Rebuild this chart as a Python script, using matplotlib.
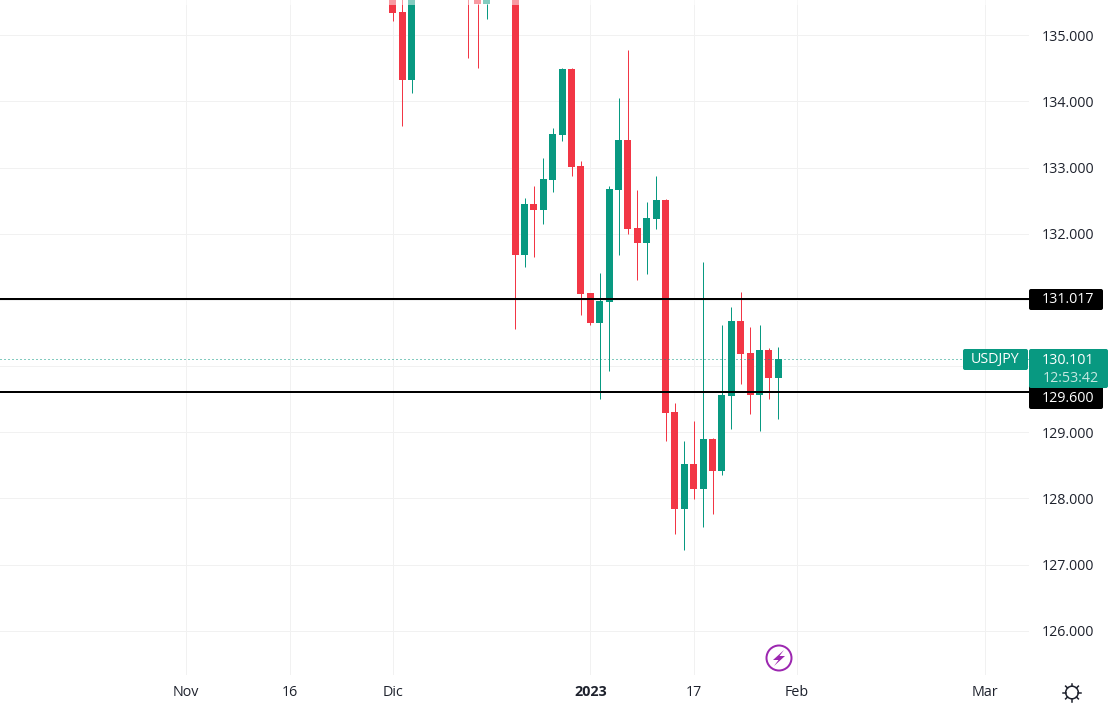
import matplotlib
matplotlib.use("Agg")
import matplotlib.pyplot as plt
from matplotlib.patches import Rectangle, FancyBboxPatch, Circle, Polygon
import numpy as np

plt.rcParams['font.family'] = ['Open Sans', 'Noto Sans', 'DejaVu Sans']

# Session index (weekdays from the first visible December candle)
idx = [0, 1, 2, 8, 9, 10, 13, 14, 15, 16, 17, 18, 19, 20, 21, 22, 23, 24, 25, 26, 27,
       28, 29, 30, 31, 32, 33, 34, 35, 36, 37, 38, 39, 40, 41]
opens = [135.60, 135.35, 134.32, 136.20, 136.00, 135.47, 136.90, 131.68, 132.45, 132.36, 132.81,
         133.49, 134.49, 133.02, 131.10, 130.65, 130.97, 132.66, 133.42, 132.09, 131.86,
         132.22, 132.51, 129.30, 127.84, 128.52, 128.14, 128.90, 128.41, 129.55, 130.68,
         130.20, 129.56, 130.24, 129.82]
closes = [135.34, 134.32, 135.60, 135.70, 135.47, 136.00, 131.68, 132.45, 132.36, 132.83, 133.51,
          134.49, 133.01, 131.09, 130.65, 130.98, 132.68, 133.42, 132.07, 131.86, 132.24,
          132.51, 129.29, 127.84, 128.52, 128.14, 128.90, 128.41, 129.56, 130.68, 130.18,
          129.56, 130.24, 129.82, 130.10]
highs = [135.70, 135.70, 135.70, 136.30, 136.10, 136.10, 137.00, 132.54, 132.72, 133.14, 133.60,
         134.50, 134.50, 133.10, 131.11, 131.41, 132.72, 134.05, 134.78, 132.66, 132.48,
         132.87, 132.52, 129.44, 128.87, 129.17, 131.57, 128.91, 130.62, 130.89, 131.12,
         130.59, 130.62, 130.27, 130.29]
lows = [135.22, 133.63, 134.13, 134.66, 134.51, 135.25, 130.56, 131.50, 131.65, 132.15, 132.63,
        133.40, 132.87, 130.77, 130.62, 129.50, 129.92, 131.68, 131.99, 131.30, 131.39,
        132.07, 128.87, 127.46, 127.22, 127.99, 127.57, 127.76, 128.35, 129.05, 129.73,
        129.27, 129.02, 129.50, 129.20]

price_ticks = [126, 127, 128, 129, 130, 131, 132, 133, 134, 135]
price_labels = ["126.000", "127.000", "128.000", "129.000", "", "", "132.000", "133.000", "134.000", "135.000"]
date_ticks = [-22, -11, 0, 21, 32, 43, 63]
date_labels = ["Nov", "16", "Dic", "2023", "17", "Feb", "Mar"]
levels = [131.017, 129.600]
last_price = 130.101

GREEN = "#089981"
RED = "#F23645"
INK = "#1E222D"
GRID = "#F1F1F1"

W, H = 1113, 708
PX = 72 / 100
fig = plt.figure(figsize=(W / 100, H / 100), dpi=100, facecolor="white")
ax = fig.add_axes([0, 1 - 675 / H, 1029 / W, 675 / H])
ax.set_xlim(-41.80, 67.67)
ax.set_ylim(125.33, 135.532)
for s in ax.spines.values():
    s.set_visible(False)

ax.set_yticks(price_ticks)
ax.set_yticklabels(price_labels)
ax.yaxis.tick_right()
ax.set_xticks(date_ticks)
ax.set_xticklabels(date_labels)
ax.tick_params(axis="y", length=0, pad=9.3, labelsize=10.3, labelcolor=INK)
ax.tick_params(axis="x", length=0, pad=7, labelsize=10.3, labelcolor=INK)
for t in ax.get_xticklabels():
    if t.get_text() == "2023":
        t.set_fontweight("bold")
ax.grid(True, color=GRID, linewidth=1 * PX, zorder=0)
ax.set_axisbelow(True)

for i, o, c, h, l in zip(idx, opens, closes, highs, lows):
    col = GREEN if c >= o else RED
    wick = ax.vlines(i, l, h, color=col, linewidth=1 * PX, zorder=3)
    wick.set_snap(True)
    ax.bar(i, abs(c - o), bottom=min(o, c), width=7 / 9.4, color=col, linewidth=0, zorder=3)

ax.axhline(last_price, color=GREEN, linewidth=1 * PX, linestyle=(0, (1, 3)), zorder=4)
for lv in levels:
    ax.axhline(lv, color="black", linewidth=2 * PX, zorder=5)

# Faded strip of the header overlay along the top edge
ax.add_patch(Rectangle((0, 1 - 5 / 675), 1, 5 / 675, transform=ax.transAxes,
                       facecolor="white", alpha=0.5, linewidth=0, zorder=6))

# Pixel-space overlay for the price-scale tags and icons
ov = fig.add_axes([0, 0, 1, 1], facecolor="none")
ov.set_xlim(0, W)
ov.set_ylim(H, 0)
ov.axis("off")


def tag(x0, y0, x1, y1, col, z=2):
    ov.add_patch(FancyBboxPatch((x0 + 2, y0 + 2), x1 - x0 - 4, y1 - y0 - 4,
                                boxstyle="round,pad=2,rounding_size=2",
                                facecolor=col, edgecolor="none", zorder=z))


fs = 10.3
tag(1029, 289, 1103, 310, "black")
ov.text(1068, 299.5, f"{levels[0]:.3f}", color="white", fontsize=fs, ha="center", va="center", zorder=5)
tag(1029, 381, 1103, 409, "black", z=1)
ov.text(1068, 398.5, f"{levels[1]:.3f}", color="white", fontsize=fs, ha="center", va="center", zorder=5)
tag(1029, 349, 1108, 388, GREEN, z=3)
ov.text(1068, 360, f"{last_price:.3f}", color="white", fontsize=fs, ha="center", va="center", zorder=5)
ov.text(1071, 378, "12:53:42", color="#C4E8E1", fontsize=fs, ha="center", va="center", zorder=5)
tag(963, 349, 1028, 370, GREEN, z=3)
ov.text(995.5, 360, "USDJPY", color="white", fontsize=fs, ha="center", va="center", zorder=5)

# Event marker (lightning in a ring)
PURPLE = "#9C27B0"
ov.add_patch(Circle((779, 658), 12.5, facecolor="white", edgecolor=PURPLE, linewidth=2 * PX, zorder=4))
ov.add_patch(Polygon([(784, 650), (773, 660), (778.5, 660), (774, 666), (785, 656), (779.5, 656)],
                     closed=True, facecolor=PURPLE, edgecolor="none", zorder=5))

# Settings gear
ov.add_patch(Circle((1072, 692.5), 6.3, facecolor="white", edgecolor=INK, linewidth=1.1, zorder=4))
for a in np.arange(0, 2 * np.pi, np.pi / 4):
    ov.plot([1072 + 6.3 * np.cos(a), 1072 + 9 * np.cos(a)],
            [692.5 + 6.3 * np.sin(a), 692.5 + 9 * np.sin(a)],
            color=INK, linewidth=1.1, zorder=4)

fig.savefig("out.png", dpi=100, facecolor="white")
